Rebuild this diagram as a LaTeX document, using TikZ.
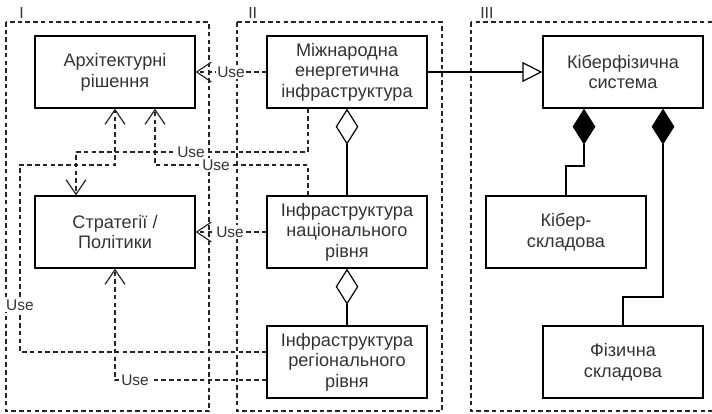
\documentclass[tikz,border=0pt]{standalone}
\usepackage{fontspec}
\setmainfont{Liberation Sans}
\usetikzlibrary{arrows.meta}
\begin{document}
\begin{tikzpicture}[x=0.75pt,y=-0.75pt,
  box/.style={draw=black, line width=1pt, minimum width=120pt, minimum height=54pt, inner sep=0pt, align=center, font=\fontsize{13.6}{15.5}\selectfont, text=black!80},
  cont/.style={draw=black!85, line width=0.9pt, dash pattern=on 3.4pt off 2.4pt},
  usel/.style={draw=black!85, line width=0.9pt, dash pattern=on 3.4pt off 2.4pt, -{Straight Barb[length=11pt,width=15pt]}},
  gen/.style={draw=black, line width=0.9pt, -{Triangle[open, length=15pt, width=15pt]}},
  agg/.style={draw=black, line width=0.9pt, -{Diamond[open, length=27pt, width=17pt]}},
  comp/.style={draw=black, line width=0.9pt, -{Diamond[length=27pt, width=17pt]}},
  lbl/.style={fill=white, inner sep=1pt, font=\fontsize{11.6}{12}\selectfont, text=black!80},
  clbl/.style={anchor=base west, inner sep=0pt, font=\fontsize{12}{12}\selectfont, text=black!80}
]
\useasboundingbox (0,0) rectangle (712,413);
\clip (0,0) rectangle (712,413);
% containers
\draw[cont] (6,22) rectangle (209,411);
\draw[cont] (237,22) rectangle (442,411);
\draw[cont] (471,22) rectangle (740,411);
\node[clbl] (lI) at (19,19) {I};
\node[clbl] (lII) at (248,19) {II};
\node[clbl] (lIII) at (480,19) {III};
% boxes
\node[box] (arch) at (115,72) {Архітектурні\\рішення};
\node[box] (strat) at (115,232) {Стратегії /\\Політики};
\node[box] (intl) at (347,72) {Міжнародна\\енергетична\\інфраструктура};
\node[box] (nat) at (347,232) {Інфраструктура\\національного\\рівня};
\node[box] (reg) at (347,362) {Інфраструктура\\регіонального\\рівня};
\node[box] (cps) at (623,72) {Кіберфізична\\система};
\node[box] (cyb) at (566,232) {Кібер-\\складова};
\node[box] (phys) at (623,362) {Фізична\\складова};
% connectors
\draw[gen] (intl.east) -- (cps.west);
\draw[agg] (nat.north) -- (intl.south);
\draw[agg] (reg.north) -- (nat.south);
\draw[comp] (cyb.north) |- (584,166) -- (cps.south -| 584,0);
\draw[comp] (phys.north) |- (663,297) -- (cps.south -| 663,0);
\draw[usel] (intl.west) -- (arch.east) node[lbl] at (231,72) {Use};
\draw[usel] (nat.west) -- (strat.east) node[lbl] at (230,232) {Use};
\draw[usel] (intl.south -| 308,0) |- (76,152) -- (strat.north -| 76,0) node[lbl] at (191,152) {Use};
\draw[usel] (nat.north -| 308,0) |- (155,165) -- (arch.south -| 155,0) node[lbl] at (216,165) {Use};
\draw[usel] (reg.west |- 0,352) -| (20,165) -| (arch.south -| 115,0) node[lbl] at (20,305) {Use};
\draw[usel] (reg.west |- 0,380) -| (strat.south -| 115,0) node[lbl] at (135,380) {Use};
\end{tikzpicture}
\end{document}
